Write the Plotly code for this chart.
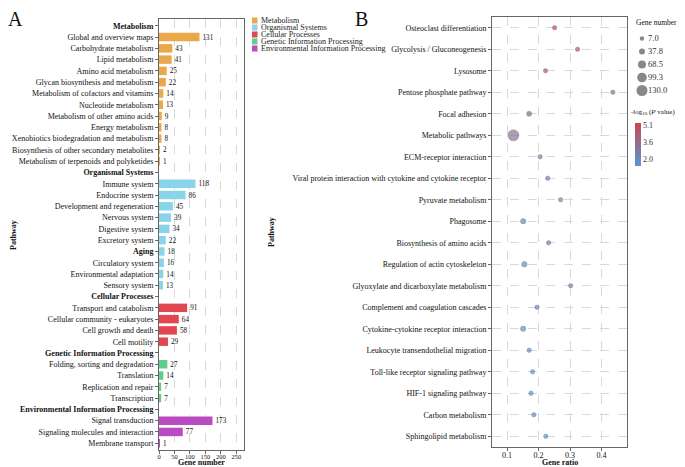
import plotly.graph_objects as go

# ---- Panel A data (KEGG classification) ----
group_names = ["Metabolism", "Organismal Systems", "Cellular Processes",
               "Genetic Information Processing", "Environmental Information Processing"]
group_colors = ["#EAA84B", "#89D4EA", "#E2474F", "#5FCD8C", "#B94CC0"]

metabolism_paths = ["Global and overview maps", "Carbohydrate metabolism", "Lipid metabolism",
                    "Amino acid metabolism", "Glycan biosynthesis and metabolism",
                    "Metabolism of cofactors and vitamins", "Nucleotide metabolism",
                    "Metabolism of other amino acids", "Energy metabolism",
                    "Xenobiotics biodegradation and metabolism",
                    "Biosynthesis of other secondary metabolites",
                    "Metabolism of terpenoids and polyketides"]
metabolism_counts = [131, 43, 41, 25, 22, 14, 13, 9, 8, 8, 2, 1]

organismal_paths = ["Immune system", "Endocrine system", "Development and regeneration",
                    "Nervous system", "Digestive system", "Excretory system", "Aging",
                    "Circulatory system", "Environmental adaptation", "Sensory system"]
organismal_counts = [118, 86, 45, 39, 34, 22, 18, 16, 14, 13]

cellular_paths = ["Transport and catabolism", "Cellular community - eukaryotes",
                  "Cell growth and death", "Cell motility"]
cellular_counts = [91, 64, 58, 29]

genetic_paths = ["Folding, sorting and degradation", "Translation",
                 "Replication and repair", "Transcription"]
genetic_counts = [27, 14, 7, 7]

environmental_paths = ["Signal transduction", "Signaling molecules and interaction",
                       "Membrane transport"]
environmental_counts = [173, 77, 1]

bold_extra = ["Aging"]

# ---- Panel B data (enrichment) ----
b_pathways = ["Osteoclast differentiation", "Glycolysis / Gluconeogenesis", "Lysosome",
              "Pentose phosphate pathway", "Focal adhesion", "Metabolic pathways",
              "ECM-receptor interaction",
              "Viral protein interaction with cytokine and cytokine receptor",
              "Pyruvate metabolism", "Phagosome", "Biosynthesis of amino acids",
              "Regulation of actin cytoskeleton", "Glyoxylate and dicarboxylate metabolism",
              "Complement and coagulation cascades", "Cytokine-cytokine receptor interaction",
              "Leukocyte transendothelial migration", "Toll-like receptor signaling pathway",
              "HIF-1 signaling pathway", "Carbon metabolism", "Sphingolipid metabolism"]
b_ratio = [0.251, 0.324, 0.222, 0.436, 0.170, 0.120, 0.205, 0.229, 0.270, 0.151,
           0.232, 0.155, 0.302, 0.195, 0.151, 0.170, 0.181, 0.176, 0.185, 0.223]
b_count = [18, 15, 20, 7, 28, 130, 13, 11, 10, 30, 12, 32, 9, 13, 30, 16, 15, 16, 14, 10]
b_logp = [5.3, 5.0, 4.7, 3.4, 3.3, 3.2, 2.6, 2.3, 2.6, 2.0, 2.3, 1.9, 2.3, 2.0,
          1.6, 1.7, 1.6, 1.5, 1.5, 1.4]
logp_ticks = [2.0, 3.6, 5.1]

size_legend_vals = [7.0, 37.8, 68.5, 99.3, 130.0]

FONT = "Liberation Serif"
# the page puts the figure 8px in from the corner, so positions are measured
# in page pixels and shifted back by that offset
OFF = 8
W, H = 677, 459

def px_x(v):
    return (v - OFF) / W

def px_y(v):
    return 1 - (v - OFF) / H

group_paths = [metabolism_paths, organismal_paths, cellular_paths, genetic_paths, environmental_paths]
group_counts = [metabolism_counts, organismal_counts, cellular_counts, genetic_counts, environmental_counts]

# order of rows on the y axis: header then its pathways
all_labels = []
for name, paths in zip(group_names, group_paths):
    all_labels.append(name)
    all_labels.extend(paths)
tick_text = ["<b>%s</b>" % l if (l in group_names or l in bold_extra) else l for l in all_labels]

fig = go.Figure()

for name, color, paths, counts in zip(group_names, group_colors, group_paths, group_counts):
    fig.add_trace(go.Bar(
        x=counts, y=paths, orientation="h", name=name,
        marker=dict(color=color, line=dict(width=0)), width=0.75,
        text=counts, textposition="outside", textfont=dict(size=8.5, color="#111"),
        cliponaxis=False, showlegend=False, xaxis="x", yaxis="y"))

sizeref = 2.0 * max(size_legend_vals) / 11 ** 2

fig.add_trace(go.Scatter(
    x=b_ratio, y=b_pathways, mode="markers", xaxis="x2", yaxis="y2", showlegend=False,
    marker=dict(size=b_count, sizemode="area", sizeref=sizeref, sizemin=2.2,
                color=b_logp, cmin=min(b_logp), cmax=max(b_logp),
                colorscale=[[0, "#5598D4"], [1, "#CB474B"]],
                line=dict(color="#444", width=0.4),
                colorbar=dict(x=px_x(635), xanchor="left", xpad=0, ypad=0,
                              y=px_y(123), yanchor="top",
                              thickness=6, lenmode="pixels", len=43, outlinewidth=0,
                              tickvals=logp_ticks, ticktext=["%.1f" % v for v in logp_ticks],
                              ticks="", tickfont=dict(size=8, color="#333")))))

# size legend
size_labels = ["%.1f" % v for v in size_legend_vals]
fig.add_trace(go.Scatter(
    x=[0.24] * len(size_legend_vals), y=size_labels, mode="markers", xaxis="x3", yaxis="y3",
    showlegend=False, hoverinfo="skip",
    marker=dict(size=size_legend_vals, sizemode="area", sizeref=sizeref, sizemin=2.2,
                color="#555555", line=dict(width=0))))
fig.add_trace(go.Scatter(
    x=[0.36] * len(size_legend_vals), y=size_labels, mode="text", text=size_labels,
    textposition="middle right", textfont=dict(size=8.5, color="#333"),
    xaxis="x3", yaxis="y3", showlegend=False, hoverinfo="skip"))

axis_common = dict(showline=True, linecolor="#666", linewidth=1, mirror=True,
                   ticks="outside", ticklen=3, tickcolor="#666", zeroline=False,
                   automargin=False, tickfont=dict(size=8, color="#111"))

annotations = [
    dict(text="A", x=px_x(15), y=px_y(19), font=dict(size=20)),
    dict(text="B", x=px_x(361), y=px_y(19), font=dict(size=20)),
    dict(text="<b>Pathway</b>", x=px_x(13), y=px_y(235), textangle=-90, font=dict(size=8)),
    dict(text="<b>Gene number</b>", x=px_x(201), y=px_y(462), font=dict(size=8)),
    dict(text="<b>Pathway</b>", x=px_x(271), y=px_y(232), textangle=-90, font=dict(size=8)),
    dict(text="<b>Gene ratio</b>", x=px_x(560), y=px_y(462), font=dict(size=8)),
    dict(text="Gene number", x=px_x(634), y=px_y(23), xanchor="left", font=dict(size=7.5)),
    dict(text="-log<sub>10</sub> (<i>P</i> value)", x=px_x(629), y=px_y(112), xanchor="left",
         font=dict(size=7)),
]
for a in annotations:
    a.setdefault("xanchor", "center")
    a.update(xref="paper", yref="paper", yanchor="middle", showarrow=False)
    a["font"].setdefault("color", "#111")

# manual category legend for panel A
shapes = []
for i, (name, color) in enumerate(zip(group_names, group_colors)):
    yc = 20.5 + i * 7
    shapes.append(dict(type="rect", xref="paper", yref="paper",
                       x0=px_x(252), x1=px_x(257.5), y0=px_y(yc + 3), y1=px_y(yc - 3),
                       fillcolor=color, line=dict(width=0)))
    annotations.append(dict(text=name, x=px_x(258.5), y=px_y(yc), xref="paper", yref="paper",
                            xanchor="left", yanchor="middle", showarrow=False,
                            font=dict(size=8, color="#222")))

fig.update_layout(
    template="none",
    width=W, height=H, margin=dict(l=0, r=0, t=0, b=0, autoexpand=False),
    paper_bgcolor="white", plot_bgcolor="white",
    font=dict(family=FONT, color="#111"),
    barmode="overlay",
    xaxis=dict(domain=[px_x(159), px_x(244)], range=[0, 275], tickvals=[0, 50, 100, 150, 200, 250],
               showgrid=True, gridcolor="#d8d8d8", griddash="dash", gridwidth=0.8,
               ticklabelstandoff=-3,
               **{**axis_common, "tickfont": dict(size=6.5, color="#111")}),
    yaxis=dict(domain=[px_y(450), px_y(19)], type="category", categoryorder="array",
               categoryarray=all_labels, range=[37.6, -0.6], tickvals=all_labels, ticktext=tick_text,
               showgrid=False, **axis_common),
    xaxis2=dict(domain=[px_x(492), px_x(627)], range=[0.052, 0.481], tickvals=[0.1, 0.2, 0.3, 0.4],
                anchor="y2", showgrid=True, gridcolor="#d8d8d8", griddash="dash", gridwidth=0.8,
                ticklabelstandoff=-3, **axis_common),
    yaxis2=dict(domain=[px_y(447), px_y(17)], type="category", categoryorder="array",
                categoryarray=b_pathways, range=[19.5, -0.5], anchor="x2",
                showgrid=True, gridcolor="#d8d8d8", griddash="dash", gridwidth=0.8, **axis_common),
    xaxis3=dict(domain=[px_x(630), px_x(680)], range=[0, 1], anchor="y3", visible=False),
    yaxis3=dict(domain=[px_y(97), px_y(32)], type="category", categoryorder="array",
                categoryarray=size_labels, range=[4.5, -0.5], anchor="x3", visible=False),
    annotations=annotations, shapes=shapes,
)

fig.write_html("out.html")
